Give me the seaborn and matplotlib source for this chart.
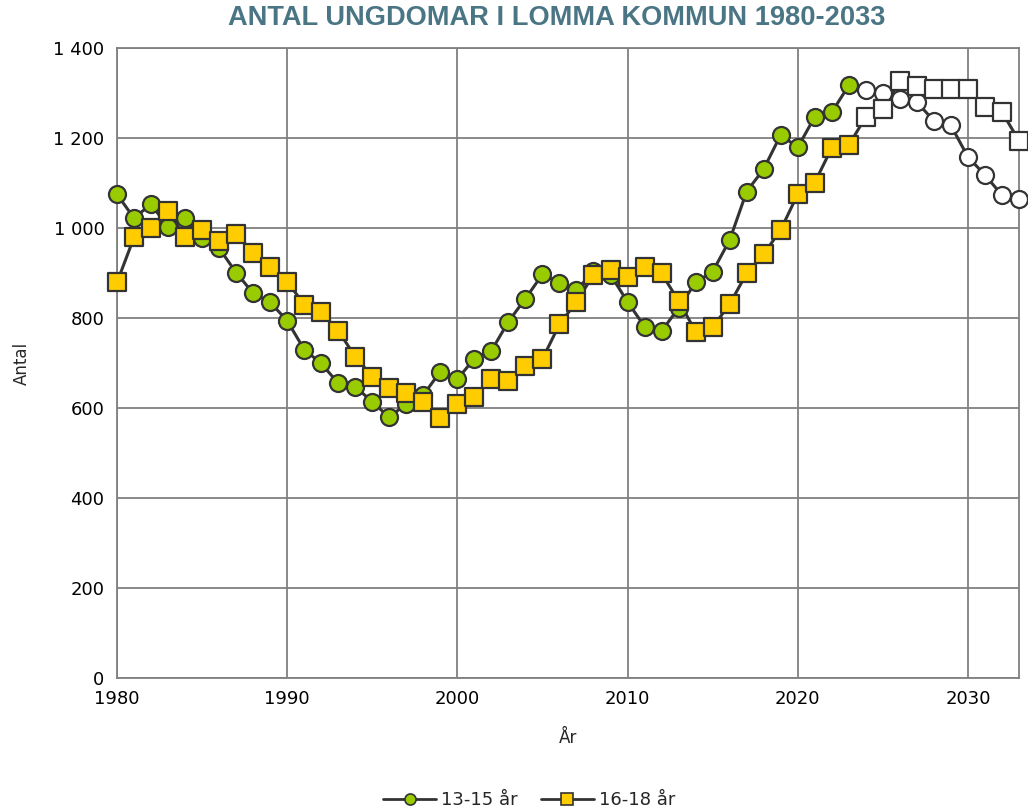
import numpy as np
import pandas as pd
import matplotlib
matplotlib.use('Agg')
import matplotlib.pyplot as plt
from matplotlib.lines import Line2D
from matplotlib.ticker import FuncFormatter
import seaborn as sns

# Data: antal ungdomar i Lomma kommun, prognos från 2024
years = list(range(1980, 2034))
age_13_15 = [1075, 1022, 1053, 1002, 1022, 977, 955, 901, 855, 835,
             794, 730, 699, 655, 647, 614, 579, 610, 629, 681,
             664, 710, 727, 792, 843, 897, 878, 862, 904, 896,
             836, 781, 771, 822, 879, 903, 973, 1081, 1131, 1207,
             1179, 1247, 1257, 1317, 1307, 1299, 1286, 1280, 1238, 1228,
             1158, 1118, 1073, 1064]
age_16_18 = [879, 979, 1001, 1038, 979, 996, 972, 987, 945, 914,
             881, 830, 813, 772, 714, 670, 644, 633, 614, 577,
             608, 625, 664, 659, 694, 709, 786, 836, 896, 907,
             892, 914, 899, 838, 770, 779, 831, 899, 942, 996,
             1075, 1101, 1178, 1184, 1247, 1264, 1327, 1316, 1310, 1308,
             1308, 1270, 1258, 1194]
first_forecast_year = 2024
series_labels = ['13-15 år', '16-18 år']

df = pd.DataFrame({'År': years, '13-15 år': age_13_15, '16-18 år': age_16_18})
long = df.melt(id_vars='År', var_name='Grupp', value_name='Antal')
long['Prognos'] = long['År'] >= first_forecast_year

sns.set_style('white')
plt.rcParams['font.family'] = ['DejaVu Sans']

fig = plt.figure(figsize=(10.28, 8.11), dpi=100)
ax = fig.add_axes([0.1138, 0.164, 0.8774, 0.7768])

line_col = '#333333'
fills = {'13-15 år': '#99CC00', '16-18 år': '#FFCC00'}
shapes = {'13-15 år': 'o', '16-18 år': 's'}

# linje genom alla år, fyllda markörer för utfall, vita för prognos
for grp in series_labels:
    sub = long[long['Grupp'] == grp]
    sns.lineplot(data=sub, x='År', y='Antal', color=line_col, linewidth=2.2,
                 ax=ax, zorder=3, clip_on=False)
    for forecast, face in [(False, fills[grp]), (True, 'white')]:
        part = sub[sub['Prognos'] == forecast]
        sns.scatterplot(data=part, x='År', y='Antal', marker=shapes[grp],
                        s=150 if shapes[grp] == 'o' else 160, color=face,
                        edgecolor=line_col, linewidth=1.6, ax=ax, zorder=4,
                        clip_on=False, legend=False)

ax.set_xlim(1980, 2033)
ax.set_ylim(0, 1400)
ax.set_xticks(range(1980, 2031, 10))
ax.set_yticks(range(0, 1401, 200))
ax.yaxis.set_major_formatter(FuncFormatter(lambda v, p: f'{int(v):,}'.replace(',', ' ')))
ax.grid(True, color='#808080', linewidth=1.3)
for s in ax.spines.values():
    s.set_color('#808080')
    s.set_linewidth(1.3)
ax.tick_params(axis='both', direction='out', length=6, width=1.3, color='#808080',
               labelsize=13, labelcolor='black', pad=3)
ax.set_xlabel('År', fontsize=12, labelpad=15)
ax.set_ylabel('Antal', fontsize=12, labelpad=16)

fig.text(0.542, 0.978, 'ANTAL UNGDOMAR I LOMMA KOMMUN 1980-2033', ha='center', va='center',
         fontsize=19.6, fontweight='bold', color='#4A7585',
         family=['Liberation Sans Narrow', 'Liberation Sans'])

handles = [Line2D([], [], color=line_col, linewidth=2, marker=shapes[g], markersize=8,
                  markerfacecolor=fills[g], markeredgecolor=line_col, markeredgewidth=1.2)
           for g in series_labels]
fig.legend(handles, series_labels, loc='center', bbox_to_anchor=(0.515, 0.013), ncol=2,
           frameon=False, fontsize=13, handlelength=2.9, columnspacing=1.3, handletextpad=0.3)

fig.savefig('out.png', dpi=100)
